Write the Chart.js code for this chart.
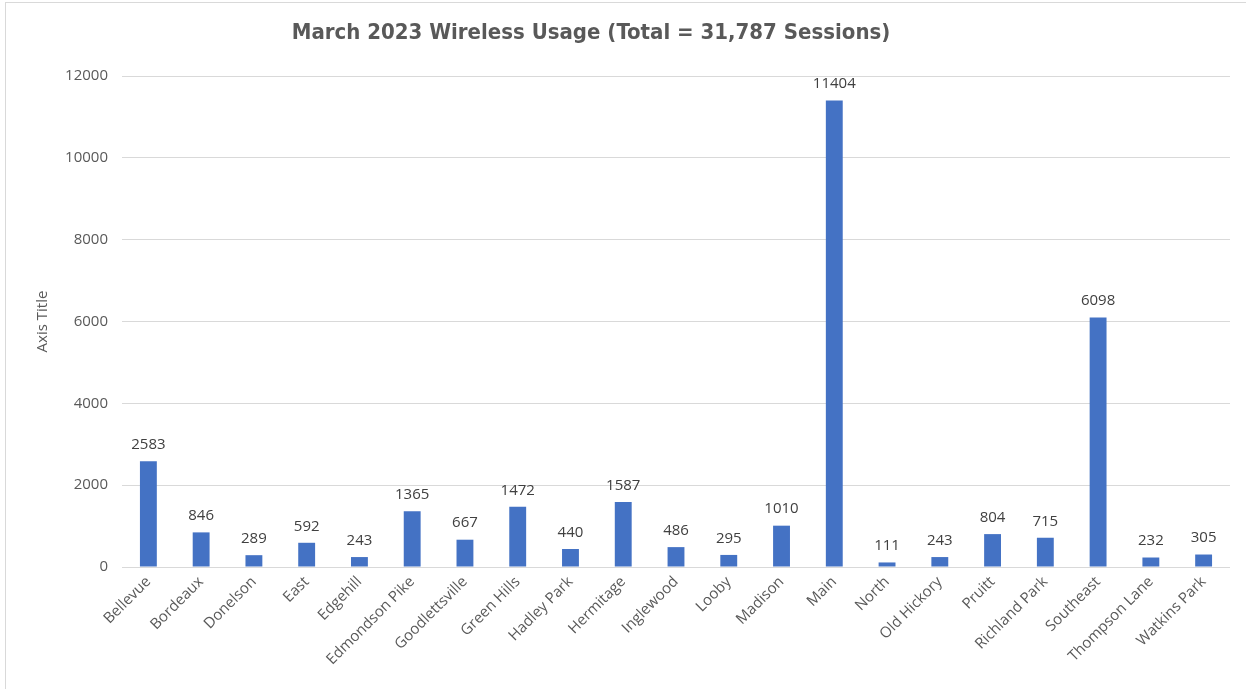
<!DOCTYPE html>
<html>
<head>
<meta charset="utf-8">
<title>March 2023 Wireless Usage</title>
<script src="https://cdn.jsdelivr.net/npm/chart.js@4/dist/chart.umd.min.js"></script>
<style>
    html, body { margin: 0; padding: 0; background: #ffffff; }
    #wrap {
        position: absolute; left: 5px; top: 2px; width: 1241px; height: 687px;
        border-left: 1px solid #d9d9d9; border-top: 1px solid #d9d9d9; box-sizing: border-box;
    }
    #usageChart { position: absolute; left: 0; top: 0; }
</style>
</head>
<body>
<div id="wrap"><canvas id="usageChart" width="1240" height="686"></canvas></div>
<script>
const branches = ["Bellevue", "Bordeaux", "Donelson", "East", "Edgehill", "Edmondson Pike",
    "Goodlettsville", "Green Hills", "Hadley Park", "Hermitage", "Inglewood", "Looby",
    "Madison", "Main", "North", "Old Hickory", "Pruitt", "Richland Park", "Southeast",
    "Thompson Lane", "Watkins Park"];
const sessions = [2583, 846, 289, 592, 243, 1365, 667, 1472, 440, 1587, 486, 295,
    1010, 11404, 111, 243, 804, 715, 6098, 232, 305];
const yTicks = [0, 2000, 4000, 6000, 8000, 10000, 12000];
const chartTitle = "March 2023 Wireless Usage (Total = 31,787 Sessions)";

const textFont = "'Open Sans', 'Noto Sans', sans-serif";

// Value labels above each bar, plus the chart title (placed like the Excel original)
const barLabels = {
    id: "barLabels",
    afterDatasetsDraw(chart) {
        const ctx = chart.ctx;
        const meta = chart.getDatasetMeta(0);
        ctx.save();
        ctx.font = "15px " + textFont;
        ctx.fillStyle = "#404040";
        ctx.textAlign = "center";
        ctx.textBaseline = "bottom";
        meta.data.forEach((bar, i) => {
            ctx.fillText(String(sessions[i]), bar.x, bar.y - 9);
        });

        ctx.font = "bold 22px 'Liberation Sans Narrow', 'DejaVu Sans Condensed', sans-serif";
        ctx.fillStyle = "#595959";
        ctx.textBaseline = "middle";
        ctx.fillText(chartTitle, 585, 30);
        ctx.restore();
    }
};

const ctx = document.getElementById("usageChart").getContext("2d");

new Chart(ctx, {
    type: "bar",
    data: {
        labels: branches,
        datasets: [{
            label: "Sessions",
            data: sessions,
            backgroundColor: "#4472C4",
            categoryPercentage: 1,
            barPercentage: 0.32
        }]
    },
    options: {
        responsive: false,
        animation: false,
        layout: { padding: { left: 28, right: 16, top: 73, bottom: 0 } },
        plugins: {
            legend: { display: false },
            tooltip: { enabled: false },
            title: { display: false }
        },
        scales: {
            x: {
                grid: { display: false, drawTicks: false },
                border: { display: false },
                ticks: {
                    color: "#595959",
                    font: { family: textFont, size: 15 },
                    minRotation: 45,
                    maxRotation: 45,
                    autoSkip: false,
                    padding: 6
                },
                afterFit(scale) { scale.height = 686 - 564; }
            },
            y: {
                min: 0,
                max: 12000,
                afterBuildTicks(scale) { scale.ticks = yTicks.map(v => ({ value: v })); },
                grid: { color: "#d9d9d9", drawTicks: false },
                border: { display: false },
                ticks: {
                    color: "#595959",
                    font: { family: textFont, size: 15 },
                    padding: 14,
                    callback: v => String(v)
                },
                title: {
                    display: true,
                    text: "Axis Title",
                    color: "#595959",
                    font: { family: textFont, size: 15 },
                    padding: { top: 0, bottom: 0 }
                },
                afterFit(scale) { scale.width = 88; }
            }
        }
    },
    plugins: [barLabels]
});
</script>
</body>
</html>
